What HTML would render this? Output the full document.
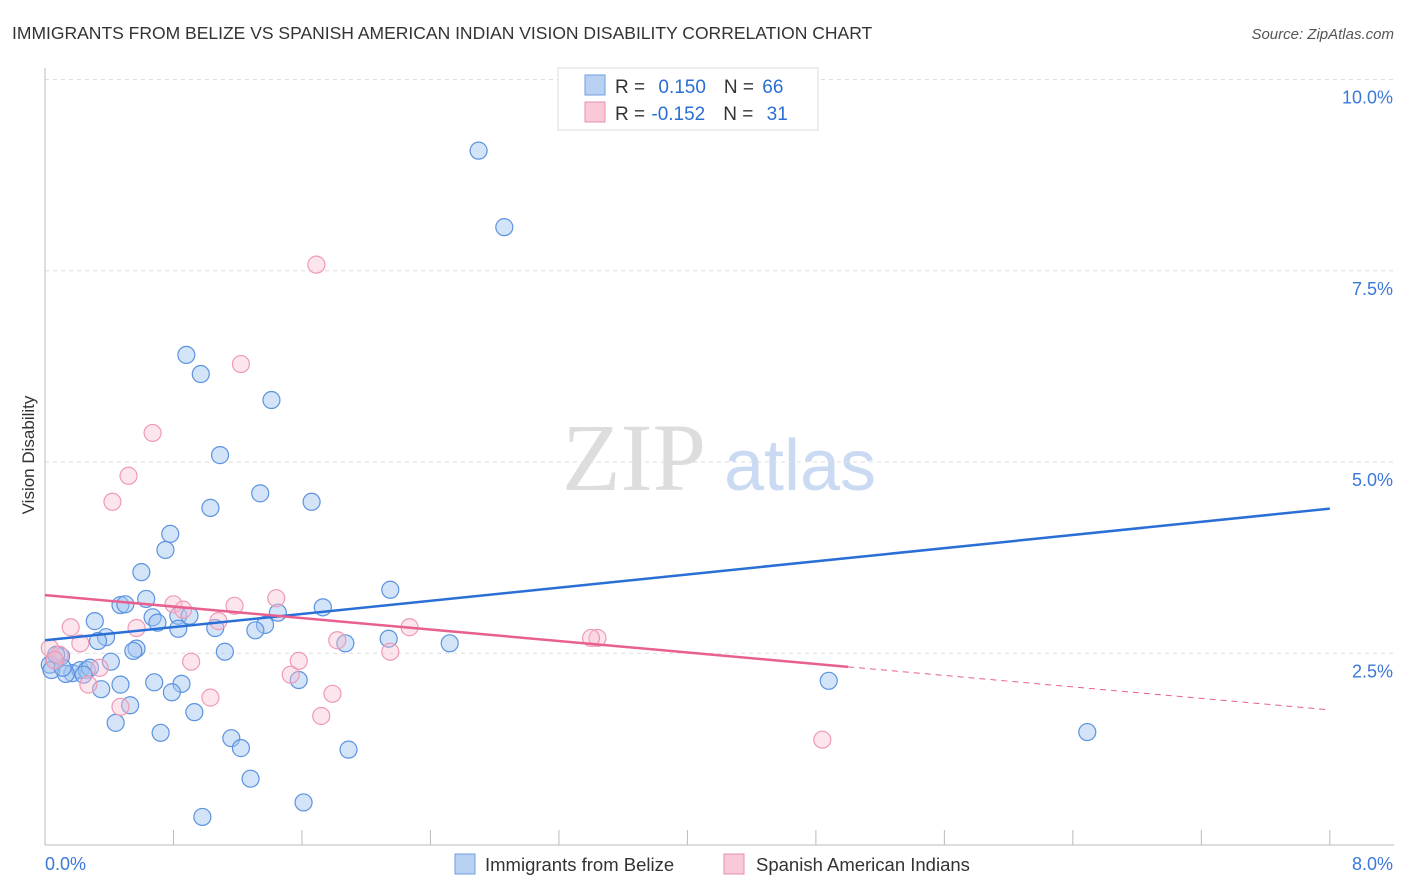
<!DOCTYPE html>
<html><head><meta charset="utf-8"><style>
body{margin:0;background:#fff;font-family:"Liberation Sans",sans-serif;}
svg{display:block}
</style></head><body>
<svg id="c" width="1406" height="892" xmlns="http://www.w3.org/2000/svg">
<text x="12" y="39" font-size="17.5" fill="#333">IMMIGRANTS FROM BELIZE VS SPANISH AMERICAN INDIAN VISION DISABILITY CORRELATION CHART</text>
<text x="1394" y="39" font-size="15" fill="#555" font-style="italic" text-anchor="end">Source: ZipAtlas.com</text>
<g>
<text x="634" y="490" font-size="96" fill="#ddd" font-family="Liberation Serif,serif" text-anchor="middle">ZIP</text>
<text x="800" y="490" font-size="72" fill="#c9daf2" text-anchor="middle">atlas</text>
</g>
<g id="grid"></g>
<g id="axes"></g>
<g id="pts"></g>
<g id="lines"></g>
<text transform="translate(34,455) rotate(-90)" font-size="17" fill="#333" text-anchor="middle">Vision Disability</text>
<g>
<rect x="558" y="68" width="260" height="62" fill="#fff" stroke="#ddd"/>
<rect x="585" y="75" width="20" height="20" fill="#b8d1f3" stroke="#6f9ee0"/>
<rect x="585" y="102" width="20" height="20" fill="#f9c9d8" stroke="#eb8fae"/>
<text x="615" y="93" font-size="19" fill="#333">R = <tspan fill="#2b6fd3" dx="8">0.150</tspan><tspan dx="18" fill="#333">N = </tspan><tspan fill="#2b6fd3" dx="3">66</tspan></text>
<text x="615" y="120" font-size="19" fill="#333">R = <tspan fill="#2b6fd3" dx="1">-0.152</tspan><tspan dx="18" fill="#333">N = </tspan><tspan fill="#2b6fd3" dx="8">31</tspan></text>
</g>
<g>
<rect x="455" y="854" width="20" height="20" fill="#b8d1f3" stroke="#6f9ee0"/>
<text x="485" y="871" font-size="18.5" fill="#333">Immigrants from Belize</text>
</g>
<g>
<rect x="724" y="854" width="20" height="20" fill="#f9c9d8" stroke="#eb8fae"/>
<text x="756" y="871" font-size="18.5" fill="#333">Spanish American Indians</text>
</g>
</svg>
<script>
const yTicks=[2.5,5.0,7.5,10.0];
const yTickLabels=["2.5%","5.0%","7.5%","10.0%"];
const xTickLabels=["0.0%","8.0%"];
const blueX=[2.70,2.86,0.88,0.97,1.41,1.09,1.34,1.03,1.66,0.78,0.75,0.60,2.15,0.63,0.47,0.50,0.67,0.83,0.90,0.70,0.31,0.83,1.06,1.37,1.31,1.45,1.73,2.14,1.87,2.52,0.38,0.33,0.57,0.55,1.12,0.41,0.10,0.06,0.03,0.04,0.17,0.22,0.26,0.28,0.35,0.47,0.68,0.85,0.79,1.58,4.88,0.53,0.93,0.44,0.72,1.16,1.22,1.89,6.49,1.28,1.61,0.98,0.13,0.24,0.11,0.07];
const blueY=[9.07,8.07,6.40,6.15,5.81,5.09,4.59,4.40,4.48,4.06,3.85,3.56,3.33,3.21,3.13,3.14,2.97,2.99,2.99,2.90,2.92,2.82,2.83,2.87,2.80,3.03,3.10,2.69,2.63,2.63,2.71,2.66,2.56,2.53,2.52,2.39,2.46,2.41,2.35,2.28,2.24,2.28,2.28,2.31,2.03,2.09,2.12,2.10,1.99,2.15,2.14,1.82,1.73,1.59,1.46,1.39,1.26,1.24,1.47,0.86,0.55,0.36,2.23,2.22,2.31,2.48];
const pinkX=[1.69,1.22,0.67,0.52,0.42,0.80,0.86,1.18,1.44,1.08,0.57,0.16,0.22,2.27,1.82,3.44,3.40,0.03,0.09,0.34,2.15,1.58,0.91,1.53,0.27,0.47,1.03,1.79,1.72,4.84,0.06];
const pinkY=[7.58,6.28,5.38,4.82,4.48,3.14,3.07,3.12,3.22,2.92,2.83,2.84,2.63,2.84,2.67,2.70,2.70,2.57,2.48,2.31,2.52,2.40,2.39,2.22,2.09,1.80,1.92,1.97,1.68,1.37,2.41];
const blueTrend=[2.67,4.39];
const pinkTrend=[3.26,1.76];
const pinkSolidEnd=5.0;
const NS="http://www.w3.org/2000/svg";
const X=v=>45+v*160.6, Y=v=>844.5-v*76.5;
function mk(tag,attrs,parent){const e=document.createElementNS(NS,tag);for(const k in attrs)e.setAttribute(k,attrs[k]);parent.appendChild(e);return e;}
const grid=document.getElementById('grid'),axes=document.getElementById('axes'),pts=document.getElementById('pts'),lines=document.getElementById('lines');
yTicks.forEach((t,i)=>{
 const l=mk('line',{x1:45,x2:1394,y1:Y(t),y2:Y(t),stroke:'#ddd','stroke-dasharray':'4,4'},grid);
 
 
 const tx=mk('text',{x:1393,y:Y(t)+24,'font-size':18,fill:'#3b78d8','text-anchor':'end'},axes);
 tx.textContent=yTickLabels[i];
 
 
});
const ya=mk('line',{x1:45,x2:45,y1:68,y2:845,stroke:'#bbb'},axes);


const xa=mk('line',{x1:45,x2:1394,y1:845,y2:845,stroke:'#bbb'},axes);


for(let i=1;i<=10;i++){const t=mk('line',{x1:X(i*0.8),x2:X(i*0.8),y1:830,y2:845,stroke:'#bbb'},axes);
 
 }
[[0,'start',45],[8,'end',1393]].forEach((a,i)=>{const t=mk('text',{x:a[2],y:870,'font-size':18,fill:'#3b78d8','text-anchor':a[1]},axes);t.textContent=xTickLabels[i];
 
 });
blueX.forEach((x,i)=>{const c=mk('circle',{cx:X(x),cy:Y(blueY[i]),r:8.5,fill:'rgba(160,195,240,0.45)',stroke:'#5b93e0','stroke-width':1.2},pts);
 
 });
pinkX.forEach((x,i)=>{const c=mk('circle',{cx:X(x),cy:Y(pinkY[i]),r:8.5,fill:'rgba(248,190,210,0.4)',stroke:'#ee9ab6','stroke-width':1.2},pts);
 
 });
const bl=mk('line',{x1:X(0),y1:Y(blueTrend[0]),x2:X(8),y2:Y(blueTrend[1]),stroke:'#2a6fd6','stroke-width':2.5},lines);


const pAt=x=>pinkTrend[0]+(pinkTrend[1]-pinkTrend[0])*x/8;
const pl=mk('line',{x1:X(0),y1:Y(pinkTrend[0]),x2:X(pinkSolidEnd),y2:Y(pAt(pinkSolidEnd)),stroke:'#e8608f','stroke-width':2.5},lines);


const pd=mk('line',{x1:X(pinkSolidEnd),y1:Y(pAt(pinkSolidEnd)),x2:X(8),y2:Y(pinkTrend[1]),stroke:'#e8608f','stroke-width':1,'stroke-dasharray':'6,5'},lines);


</script>
</body></html>
